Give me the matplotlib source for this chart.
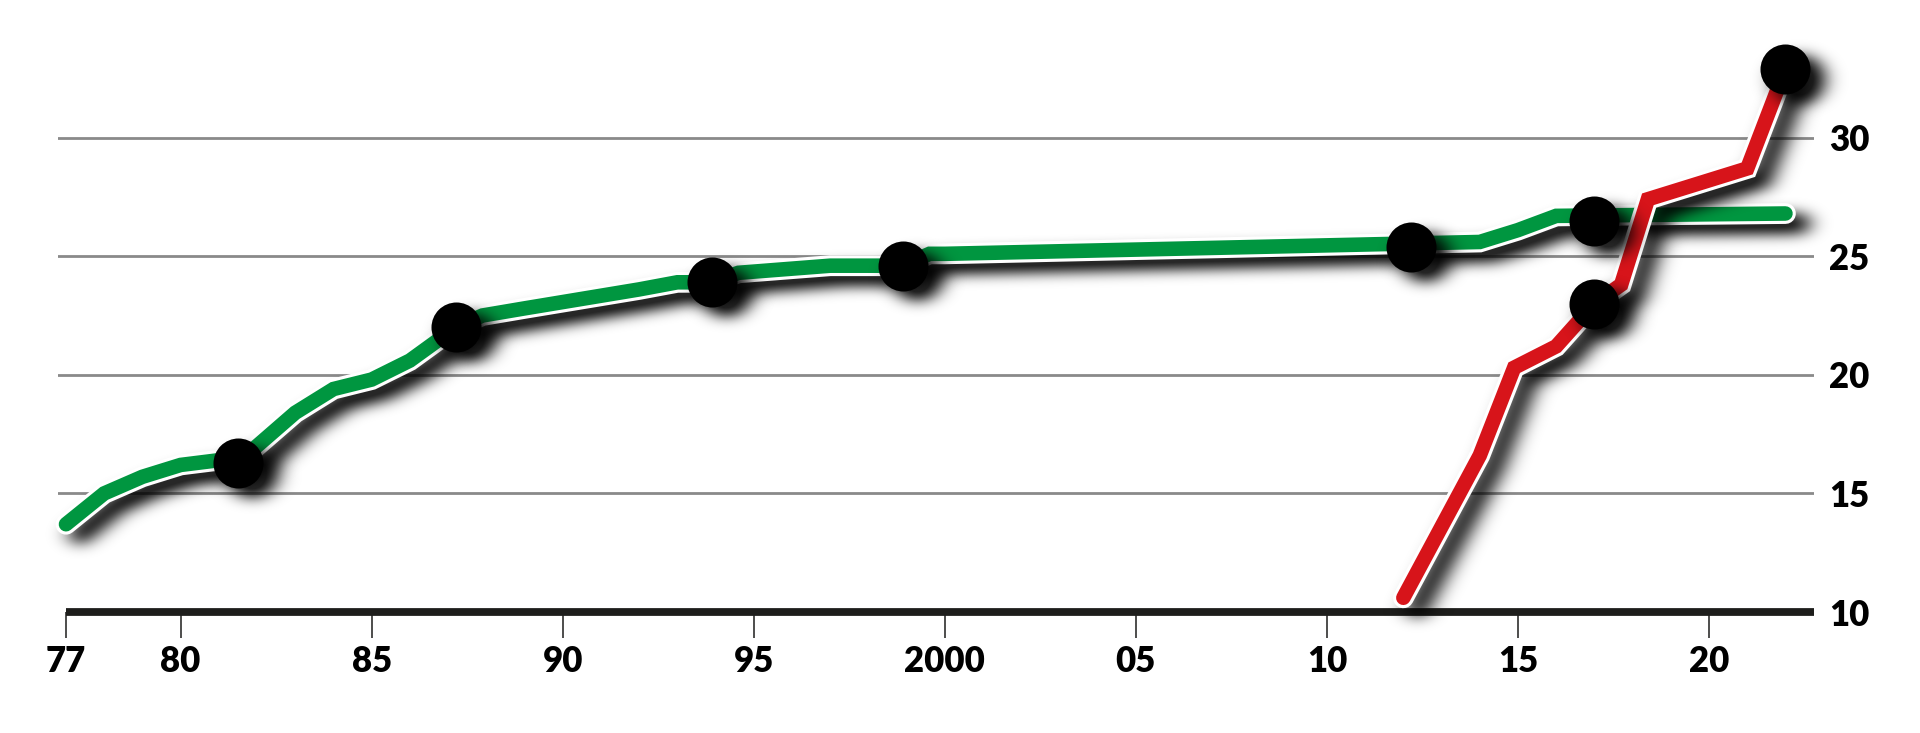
import numpy as np
import matplotlib
matplotlib.use("Agg")
import matplotlib.pyplot as plt


# -------------------------
# Data
# -------------------------

green_years = [1977, 1978, 1979, 1980, 1981, 1981.5, 1983, 1984, 1985, 1986,
               1987.2, 1987.9, 1989, 1992, 1993, 1993.9, 1994.6, 1997, 1998,
               1998.9, 1999.6, 2000, 2014, 2015, 2016, 2022]
green_vals = [13.7, 15.0, 15.7, 16.2, 16.4, 16.3, 18.4, 19.4, 19.8, 20.6,
              22.0, 22.5, 22.8, 23.6, 23.9, 23.9, 24.3, 24.6, 24.6,
              24.6, 25.1, 25.1, 25.6, 26.1, 26.7, 26.8]

red_years = [2012, 2013, 2014, 2014.9, 2016, 2017, 2017.7, 2018.4, 2021, 2022]
red_vals = [10.6, 13.6, 16.6, 20.3, 21.2, 23.0, 23.8, 27.4, 28.7, 32.9]

dot_years = [1981.5, 1987.2, 1993.9, 1998.9, 2012.2, 2017.0, 2017.0, 2022.0]
dot_vals = [16.3, 22.0, 23.9, 24.6, 25.4, 26.5, 23.0, 32.9]

x_ticks = [1977, 1980, 1985, 1990, 1995, 2000, 2005, 2010, 2015, 2020]
x_labels = ["77", "80", "85", "90", "95", "2000", "05", "10", "15", "20"]
y_ticks = [10, 15, 20, 25, 30]

GREEN = "#009640"
RED = "#d7141a"
GRID = "#8a8a8a"
INK = "#1d1d1b"

plt.rcParams["font.family"] = ["Lato", "DejaVu Sans"]

FIGSIZE = (19.2, 7.33)
POS = [58 / 1920, 121 / 733, 1756 / 1920, 612 / 733]
px_year = 38.21
XLIM = (1977 - 8 / px_year, 1977 + 1748 / px_year)
YLIM = (10, 10 + 612 / 23.72)

LW = 10.5          # coloured stroke
LW_OUT = LW + 4.5  # white outline
DOT = 36


def draw_series(ax, which, color=None):
    # which: "green", "red" or "dots"
    if which == "dots":
        ax.plot(dot_years, dot_vals, ls="none", marker="o", ms=DOT,
                color="black", mew=0, clip_on=False, zorder=5)
        return
    xs, ys, c, z = ((green_years, green_vals, GREEN, 3) if which == "green"
                    else (red_years, red_vals, RED, 4))
    if color is not None:
        ax.plot(xs, ys, color=color, lw=LW_OUT, solid_capstyle="round",
                solid_joinstyle="miter", clip_on=False)
        return
    ax.plot(xs, ys, color="white", lw=LW_OUT, solid_capstyle="round",
            solid_joinstyle="miter", clip_on=False, zorder=z)
    ax.plot(xs, ys, color=c, lw=LW, solid_capstyle="round",
            solid_joinstyle="miter", clip_on=False, zorder=z)


# -------------------------
# Blurred drop shadow (render mask, blur, shift)
# -------------------------

def blur(m, sigma, axis):
    r = int(3 * sigma)
    k = np.exp(-0.5 * (np.arange(-r, r + 1) / sigma) ** 2)
    k /= k.sum()
    return np.apply_along_axis(lambda v: np.convolve(v, k, mode="same"), axis, m)


def shadow_mask(which, sx=10.0, sy=6.5, dx=14, dy=10, strength=1.0):
    f2 = plt.figure(figsize=FIGSIZE, dpi=100)
    a2 = f2.add_axes(POS)
    a2.set_xlim(XLIM)
    a2.set_ylim(YLIM)
    a2.axis("off")
    draw_series(a2, which, color="black")
    f2.canvas.draw()
    buf = np.asarray(f2.canvas.buffer_rgba())[:, :, 0].astype(float)
    plt.close(f2)
    m = 1 - buf / 255.0
    m = blur(blur(m, sx, 1), sy, 0)
    m = np.roll(m, (dy, dx), axis=(0, 1))
    img = np.zeros(m.shape + (4,))
    img[..., 3] = np.clip(m * strength, 0, 0.85)
    return img


# -------------------------
# Figure / axes
# -------------------------

fig = plt.figure(figsize=FIGSIZE, dpi=100)
ax = fig.add_axes(POS)

for s in ax.spines.values():
    s.set_visible(False)

for v in y_ticks[1:]:
    ax.axhline(v, color=GRID, lw=2, zorder=1)

# thick base bar
ax.plot([1977, XLIM[1]], [10, 10], color=INK, lw=5.6,
        solid_capstyle="butt", clip_on=False, zorder=2)

for which, z in [("green", 2.5), ("red", 3.5), ("dots", 4.5)]:
    ax.imshow(shadow_mask(which), extent=[0, 1, 0, 1],
              transform=fig.transFigure, aspect="auto", zorder=z,
              clip_on=False, interpolation="nearest")
    draw_series(ax, which)

ax.set_xlim(XLIM)
ax.set_ylim(YLIM)

ax.set_xticks(x_ticks)
ax.set_xticklabels(x_labels)
ax.tick_params(axis="x", direction="out", length=19, width=1.1, color=INK,
               pad=5, labelsize=25, labelcolor="black")

ax.yaxis.tick_right()
ax.set_yticks(y_ticks)
ax.tick_params(axis="y", length=0, pad=11, labelsize=25,
               labelcolor="black")
for lab in ax.get_xticklabels() + ax.get_yticklabels():
    lab.set_fontweight("heavy")

fig.savefig("out.png", dpi=100, facecolor="white")
